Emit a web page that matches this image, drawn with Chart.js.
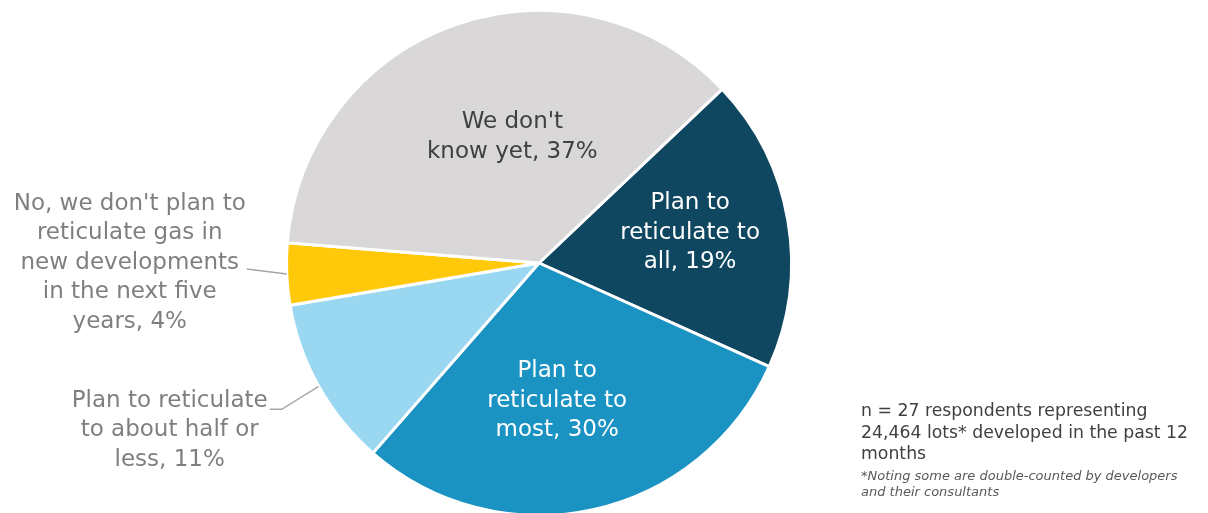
<!DOCTYPE html>
<html>
<head>
<meta charset="utf-8">
<script src="https://cdn.jsdelivr.net/npm/chart.js@4.4.1/dist/chart.umd.min.js"></script>
<style>
  html, body { margin: 0; padding: 0; background: #fff; overflow: hidden; width: 1208px; height: 513px; }
  #wrap { position: relative; width: 1208px; height: 526px; }
  #note { position: absolute; left: 861px; top: 400px; width: 345px; font-family: "DejaVu Sans", sans-serif; color: #404040; }
  #note .main { font-size: 17.3px; line-height: 21.5px; }
  #note .small { font-size: 13px; line-height: 16px; font-style: italic; color: #595959; margin-top: 3px; }
</style>
</head>
<body>
<div id="wrap">
  <canvas id="pie" width="1208" height="526"></canvas>
  <div id="note">
    <div class="main">n = 27 respondents representing<br>24,464 lots* developed in the past 12<br>months</div>
    <div class="small">*Noting some are double-counted by developers<br>and their consultants</div>
  </div>
</div>
<script>
// Survey answers: plans to reticulate gas in new developments
const categories = [
  "Plan to reticulate to all",
  "Plan to reticulate to most",
  "Plan to reticulate to about half or less",
  "No, we don't plan to reticulate gas in new developments in the next five years",
  "We don't know yet"
];
const shares = [19, 30, 11, 4, 37];
// Label text per slice, split into lines; the share is appended to the last line
const labelLines = [
  ["Plan to", "reticulate to", "all,"],
  ["Plan to", "reticulate to", "most,"],
  ["Plan to reticulate", "to about half or", "less,"],
  ["No, we don't plan to", "reticulate gas in", "new developments", "in the next five", "years,"],
  ["We don't", "know yet,"]
];
const sliceColors = ["#0F4761", "#1A93C3", "#9AD8F2", "#FFC90A", "#D9D7D8"];

// Label placement: inside labels sit at a fraction of the radius (with an angle nudge);
// outside labels hang off a leader line that starts at the slice's outer edge.
const labelStyle = [
  { inside: true, frac: 0.61, shift: -1.6, color: "#FFFFFF" },
  { inside: true, frac: 0.55, shift: 4.8, color: "#FFFFFF" },
  { inside: false, elbow: [-37, 23], tail: -12, block: [-100, 21], color: "#7F7F7F" },
  { inside: false, elbow: null, end: [-40, -5], block: [-117, -6.5], color: "#7F7F7F" },
  { inside: true, frac: 0.51, shift: 7.5, color: "#404040" }
];
const FONT = '23px "DejaVu Sans", sans-serif';
const LINE_H = 29.5;

function drawBlock(ctx, lines, cx, cy, color) {
  ctx.fillStyle = color;
  ctx.font = FONT;
  ctx.textAlign = "center";
  ctx.textBaseline = "middle";
  const top = cy - (lines.length - 1) / 2 * LINE_H;
  lines.forEach((t, k) => ctx.fillText(t, cx, top + k * LINE_H));
}

const sliceLabels = {
  id: "sliceLabels",
  afterDatasetsDraw(chart) {
    const ctx = chart.ctx;
    const meta = chart.getDatasetMeta(0);
    const values = chart.data.datasets[0].data;
    meta.data.forEach((arc, i) => {
      const p = arc.getProps(["x", "y", "startAngle", "endAngle", "outerRadius"], true);
      const mid = (p.startAngle + p.endAngle) / 2;
      const st = labelStyle[i];
      const lines = labelLines[i].slice();
      lines[lines.length - 1] += " " + values[i] + "%";
      ctx.save();
      if (st.inside) {
        const a = mid + st.shift * Math.PI / 180;
        const r = p.outerRadius * st.frac;
        drawBlock(ctx, lines, p.x + r * Math.cos(a), p.y + r * Math.sin(a), st.color);
      } else {
        const ex = p.x + p.outerRadius * Math.cos(mid);
        const ey = p.y + p.outerRadius * Math.sin(mid);
        ctx.strokeStyle = "#A6A6A6";
        ctx.lineWidth = 1.5;
        ctx.beginPath();
        ctx.moveTo(ex, ey);
        let lx, ly;
        if (st.elbow) {
          const bx = ex + st.elbow[0], by = ey + st.elbow[1];
          ctx.lineTo(bx, by);
          lx = bx + st.tail; ly = by;
        } else {
          lx = ex + st.end[0]; ly = ey + st.end[1];
        }
        ctx.lineTo(lx, ly);
        ctx.stroke();
        drawBlock(ctx, lines, lx + st.block[0], ly + st.block[1], st.color);
      }
      ctx.restore();
    });
  }
};

new Chart(document.getElementById("pie"), {
  type: "pie",
  data: {
    labels: categories,
    datasets: [{
      data: shares,
      backgroundColor: sliceColors,
      borderColor: "#FFFFFF",
      borderWidth: 3
    }]
  },
  options: {
    responsive: false,
    animation: false,
    rotation: 46.5,
    layout: { padding: { left: 285, right: 415, top: 9, bottom: 9 } },
    plugins: { legend: { display: false }, tooltip: { enabled: false } }
  },
  plugins: [sliceLabels]
});
</script>
</body>
</html>
